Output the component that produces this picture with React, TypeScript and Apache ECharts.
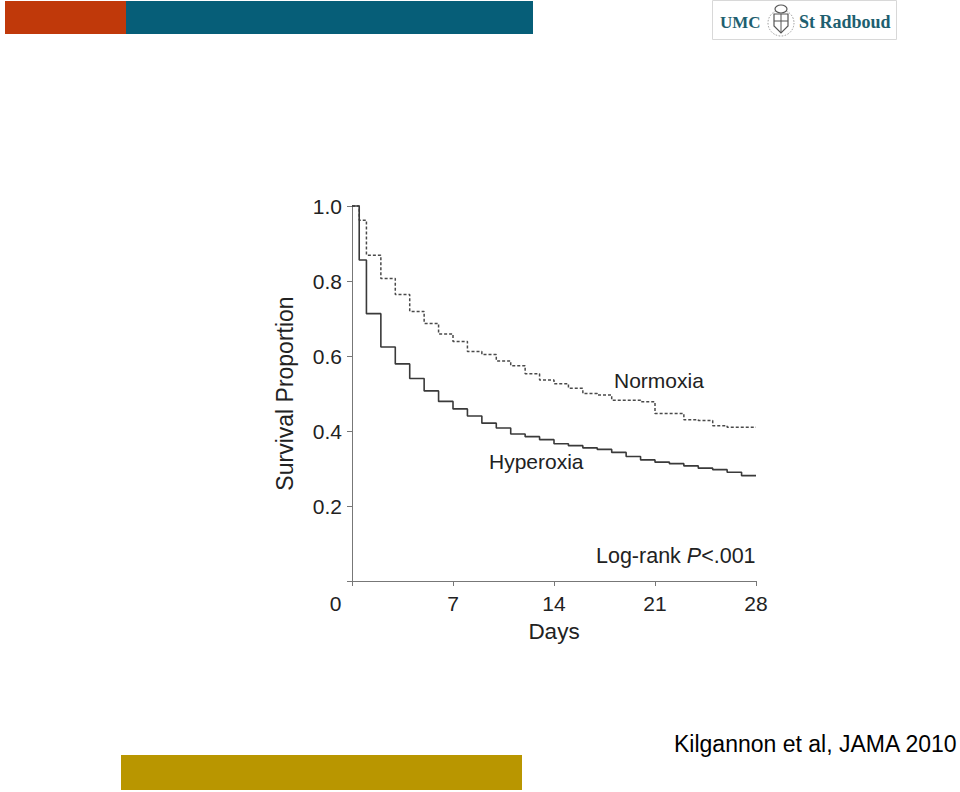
import React, { useEffect, useRef } from "react";
import * as echarts from "echarts";

const days = [0, 0.5, 1, 2, 3, 4, 5, 6, 7, 8, 9, 10, 11, 12, 13, 14, 15, 16, 17, 18, 19, 20, 21, 22, 23, 24, 25, 26, 27, 28];
const hyperoxia = [1, 0.856, 0.713, 0.624, 0.579, 0.54, 0.507, 0.479, 0.459, 0.44, 0.421, 0.408, 0.392, 0.385, 0.377, 0.366, 0.361, 0.355, 0.351, 0.343, 0.332, 0.323, 0.317, 0.313, 0.307, 0.301, 0.297, 0.29, 0.281, 0.281];
const normoxia = [1, 0.962, 0.869, 0.807, 0.764, 0.719, 0.687, 0.659, 0.639, 0.612, 0.604, 0.587, 0.574, 0.553, 0.536, 0.526, 0.514, 0.5, 0.496, 0.482, 0.482, 0.478, 0.447, 0.447, 0.43, 0.428, 0.414, 0.41, 0.41, 0.41];
const xTicks = [0, 7, 14, 21, 28];
const seriesNames = ["Normoxia", "Hyperoxia"];
const FONT = "'Liberation Sans', Arial, Helvetica, sans-serif";
const SERIF = "'Liberation Serif', 'DejaVu Serif', serif";

export default function App() {
  const ref = useRef<HTMLDivElement>(null);
  useEffect(() => {
    if (!ref.current) return;
    const chart = echarts.init(ref.current, null, { renderer: "svg" });
    const toPairs = (vals: number[]) => days.map((d, i) => [d, vals[i]]);
    chart.setOption({
      animation: false,
      backgroundColor: "#ffffff",
      textStyle: { fontFamily: FONT },
      grid: { left: 352, top: 206, right: 204, bottom: 211, containLabel: false },
      xAxis: {
        type: "value",
        min: 0,
        max: 28,
        interval: 7,
        name: "Days",
        nameLocation: "middle",
        nameGap: 39,
        nameTextStyle: { fontSize: 22.5, color: "#222", fontFamily: FONT },
        axisLine: { lineStyle: { color: "#777", width: 1 } },
        axisTick: { show: true, length: 5, lineStyle: { color: "#777" } },
        splitLine: { show: false },
        axisLabel: {
          fontSize: 21,
          color: "#222",
          margin: 12,
          fontFamily: FONT,
          formatter: (v: number) => (xTicks.includes(v) ? (v === 0 ? "{o|0}" : String(v)) : ""),
          rich: { o: { fontSize: 21, color: "#222", padding: [0, 33, 0, 0], fontFamily: FONT } },
        },
      },
      yAxis: {
        type: "value",
        min: 0,
        max: 1,
        interval: 0.2,
        name: "Survival Proportion",
        nameLocation: "middle",
        nameGap: 56,
        nameTextStyle: { fontSize: 23, color: "#222", fontFamily: FONT },
        axisLine: { show: true, lineStyle: { color: "#777", width: 1 } },
        axisTick: { show: true, length: 5, lineStyle: { color: "#777" } },
        splitLine: { show: false },
        axisLabel: {
          fontSize: 21,
          color: "#222",
          margin: 10,
          fontFamily: FONT,
          formatter: (v: number) => (v === 0 ? "" : v.toFixed(1)),
        },
      },
      series: [
        {
          name: seriesNames[0],
          type: "line",
          step: "end",
          data: toPairs(normoxia),
          showSymbol: false,
          symbol: "none",
          clip: false,
          lineStyle: { color: "#4a4a4a", width: 1.5, type: [3, 2] },
        },
        {
          name: seriesNames[1],
          type: "line",
          step: "end",
          data: toPairs(hyperoxia),
          showSymbol: false,
          symbol: "none",
          clip: false,
          lineStyle: { color: "#3a3a3a", width: 1.6 },
        },
      ],
      graphic: [
        { type: "rect", shape: { x: 5, y: 1, width: 121, height: 33 }, style: { fill: "#C0390A" } },
        { type: "rect", shape: { x: 126, y: 1, width: 407, height: 33 }, style: { fill: "#065E78" } },
        { type: "rect", shape: { x: 121, y: 755, width: 401, height: 35 }, style: { fill: "#B99600" } },
        { type: "rect", shape: { x: 712.5, y: 0.5, width: 184, height: 39 }, style: { fill: "#fff", stroke: "#d8d8d8", lineWidth: 1 } },
        {
          type: "text",
          x: 720,
          y: 22,
          style: { text: "UMC", fontSize: 17, fontWeight: "bold", fontFamily: SERIF, fill: "#1E5F70", verticalAlign: "middle", align: "left" },
        },
        {
          type: "text",
          x: 799,
          y: 22,
          style: { text: "St Radboud", fontSize: 18, fontWeight: "bold", fontFamily: SERIF, fill: "#1E5F70", verticalAlign: "middle", align: "left" },
        },
        { type: "circle", shape: { cx: 781, cy: 23, r: 13 }, style: { fill: "none", stroke: "#999", lineWidth: 1, lineDash: [1.5, 1.5] } },
        { type: "polygon", shape: { points: [[774, 14], [788, 14], [788, 26], [781, 33], [774, 26]] }, style: { fill: "#fff", stroke: "#555", lineWidth: 1.2 } },
        { type: "line", shape: { x1: 781, y1: 14, x2: 781, y2: 32 }, style: { stroke: "#555", lineWidth: 1 } },
        { type: "line", shape: { x1: 774, y1: 21, x2: 788, y2: 21 }, style: { stroke: "#555", lineWidth: 1 } },
        { type: "ellipse", shape: { cx: 781, cy: 9, rx: 6, ry: 4 }, style: { fill: "#fff", stroke: "#555", lineWidth: 1.2 } },
        {
          type: "text",
          x: 614,
          y: 380,
          style: { text: seriesNames[0], fontSize: 21, fontFamily: FONT, fill: "#222", verticalAlign: "middle", align: "left" },
        },
        {
          type: "text",
          x: 489,
          y: 461,
          style: { text: seriesNames[1], fontSize: 21, fontFamily: FONT, fill: "#222", verticalAlign: "middle", align: "left" },
        },
        {
          type: "text",
          x: 596,
          y: 556,
          style: {
            text: "{n|Log-rank }{i|P}{n|<.001}",
            fontFamily: FONT,
            verticalAlign: "middle",
            align: "left",
            rich: {
              n: { fontSize: 21.5, fontFamily: FONT, fill: "#222" },
              i: { fontSize: 21.5, fontFamily: FONT, fill: "#222", fontStyle: "italic" },
            },
          },
        },
        {
          type: "text",
          x: 674,
          y: 744,
          style: { text: "Kilgannon et al, JAMA 2010", fontSize: 23, fontFamily: FONT, fill: "#000", verticalAlign: "middle", align: "left" },
        },
      ],
    });
    return () => chart.dispose();
  }, []);
  return <div ref={ref} style={{ position: "absolute", left: 0, top: 0, width: 960, height: 792 }} />;
}
